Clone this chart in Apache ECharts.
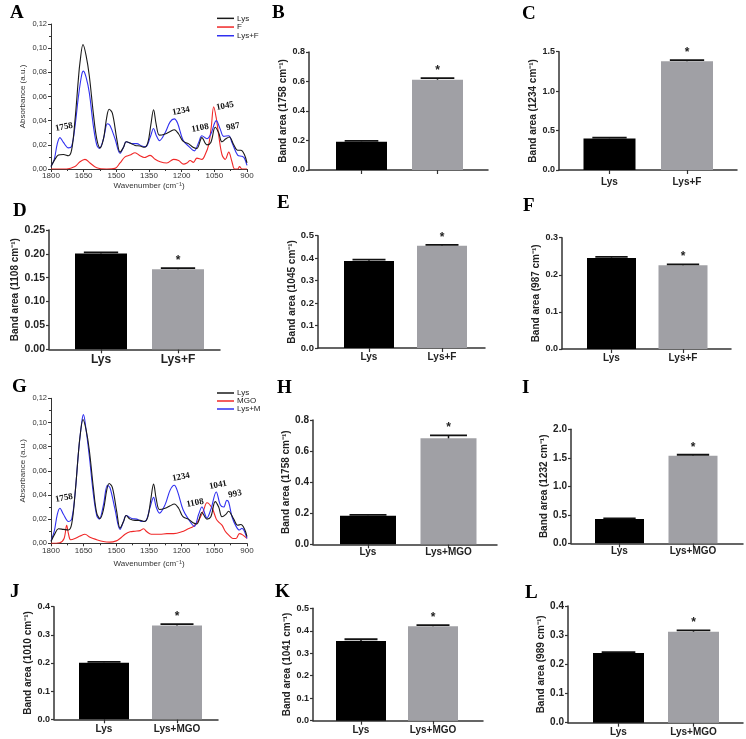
<!DOCTYPE html>
<html><head><meta charset="utf-8">
<script src="https://cdn.jsdelivr.net/npm/echarts@6/dist/echarts.min.js"></script>
<style>html,body{margin:0;padding:0;background:#fff}#c{width:746px;height:739px}</style>
</head><body><div id="c"></div>
<script>
// ---------- Spectra data (panel A) ----------
const wnA_lys = [1800,1782,1766,1743,1720,1705,1690,1674,1667,1653,1639,1624,1605,1590,1575,1559,1544,1533,1518,1498,1483,1467,1455,1437,1414,1391,1371,1355,1342,1329,1317,1302,1276,1253,1234,1214,1194,1169,1148,1130,1107,1084,1066,1046,1030,1015,997,981,961,943,928,912,900];
const absA_lys = [0.002,0.008,0.0115,0.012,0.011,0.016,0.040,0.075,0.088,0.103,0.094,0.077,0.045,0.025,0.0175,0.025,0.043,0.0495,0.046,0.025,0.014,0.018,0.0225,0.0215,0.0195,0.019,0.018,0.022,0.036,0.049,0.037,0.028,0.029,0.031,0.0325,0.029,0.023,0.021,0.018,0.017,0.026,0.020,0.022,0.0345,0.030,0.0225,0.025,0.0265,0.020,0.0155,0.0155,0.012,0.005];
const wnA_f = [1800,1728,1690,1667,1644,1621,1590,1544,1506,1483,1460,1437,1414,1391,1372,1345,1322,1299,1268,1237,1214,1191,1176,1161,1146,1130,1107,1092,1076,1064,1053,1041,1030,1015,1000,984,969,957,943,934,923,900];
const absA_f = [0,0,0.002,0.006,0.008,0.005,0.001,0,0.0005,0.005,0.010,0.0115,0.0135,0.011,0.0095,0.0113,0.008,0.006,0.005,0.008,0.007,0.004,0.005,0.007,0.0055,0.009,0.008,0.012,0.020,0.035,0.0515,0.042,0.028,0.012,0.008,0.014,0.006,0,0,0.002,0,0];
const wnA_lysf = [1800,1785,1771,1759,1743,1720,1705,1690,1674,1659,1651,1639,1624,1605,1590,1578,1559,1541,1529,1506,1483,1467,1455,1429,1406,1383,1365,1345,1329,1317,1302,1276,1253,1234,1219,1194,1169,1142,1122,1107,1084,1066,1041,1023,1007,984,969,943,923,912,900];
const absA_lysf = [0.002,0.008,0.021,0.026,0.022,0.0175,0.019,0.035,0.060,0.078,0.081,0.076,0.063,0.035,0.020,0.017,0.025,0.0375,0.036,0.025,0.013,0.018,0.0225,0.021,0.021,0.019,0.0185,0.026,0.0335,0.028,0.0235,0.030,0.039,0.0415,0.038,0.024,0.019,0.015,0.022,0.0275,0.025,0.029,0.040,0.033,0.027,0.0275,0.022,0.0115,0.0105,0.009,0.003];

// ---------- Spectra data (panel G) ----------
const wnG_lys = [1800,1782,1766,1743,1720,1705,1690,1674,1667,1653,1639,1624,1605,1590,1575,1559,1544,1533,1518,1498,1483,1467,1455,1437,1414,1391,1371,1355,1342,1329,1317,1302,1276,1253,1234,1214,1194,1169,1148,1130,1107,1084,1066,1046,1030,1015,997,985,961,943,928,912,900];
const absG_lys = [0.0015,0.008,0.012,0.0115,0.011,0.016,0.040,0.075,0.088,0.1025,0.094,0.077,0.045,0.025,0.0205,0.028,0.044,0.0495,0.046,0.026,0.0125,0.018,0.023,0.020,0.019,0.019,0.018,0.022,0.036,0.049,0.037,0.028,0.029,0.031,0.0325,0.029,0.022,0.020,0.017,0.016,0.0255,0.020,0.022,0.0345,0.030,0.022,0.024,0.0265,0.020,0.015,0.0155,0.012,0.0055];
const wnG_mgo = [1800,1760,1740,1728,1720,1710,1690,1667,1644,1621,1590,1560,1530,1500,1483,1460,1437,1414,1391,1375,1360,1340,1300,1268,1237,1200,1170,1146,1122,1100,1084,1060,1041,1030,1015,1000,985,965,950,935,920,900];
const absG_mgo = [0,0.0005,0.004,0.015,0.008,0.003,0.004,0.006,0.0075,0.005,0.003,0.0015,0.001,0.002,0.004,0.0075,0.0095,0.010,0.0105,0.012,0.0095,0.0075,0.0075,0.008,0.008,0.0095,0.012,0.014,0.019,0.027,0.0335,0.029,0.020,0.0175,0.015,0.010,0.007,0.004,0.004,0.008,0.007,0.004];
const wnG_lysm = [1800,1785,1771,1759,1743,1720,1705,1690,1674,1659,1651,1639,1624,1605,1590,1578,1559,1541,1529,1506,1483,1467,1455,1429,1406,1383,1365,1345,1329,1317,1302,1276,1253,1234,1219,1194,1169,1142,1122,1107,1084,1066,1041,1023,1007,993,984,969,950,935,923,912,900];
const absG_lysm = [0.002,0.010,0.024,0.029,0.024,0.018,0.020,0.040,0.075,0.100,0.1065,0.094,0.072,0.040,0.023,0.020,0.032,0.048,0.046,0.028,0.0115,0.018,0.023,0.0205,0.020,0.018,0.0185,0.030,0.038,0.030,0.025,0.032,0.044,0.048,0.043,0.028,0.020,0.014,0.024,0.030,0.021,0.028,0.0425,0.032,0.030,0.0355,0.034,0.022,0.014,0.011,0.0125,0.010,0.004];

// ---------- Bar data ----------
const catsF = ['Lys','Lys+F'];
const catsM = ['Lys','Lys+MGO'];
const bandB = '1758', valB = [0.192,0.612], errB = [0.002,0.008];
const bandC = '1234', valC = [0.400,1.380], errC = [0.003,0.006];
const bandD = '1108', valD = [0.201,0.168], errD = [0.001,0.001];
const bandE = '1045', valE = [0.387,0.455], errE = [0.004,0.002];
const bandF = '987',  valF = [0.245,0.226], errF = [0.002,0.001];
const bandH = '1758', valH = [0.184,0.682], errH = [0.002,0.016];
const bandI = '1232', valI = [0.426,1.537], errI = [0.003,0.008];
const bandJ = '1010', valJ = [0.201,0.333], errJ = [0.001,0.003];
const bandK = '1041', valK = [0.355,0.420], errK = [0.005,0.003];
const bandL = '989',  valL = [0.239,0.312], errL = [0.001,0.003];
const signif = [0,1];

const spectraTicks = {min:900, max:1800, step:150};
const absTicks = {min:0, max:0.12, step:0.02};

// ---------- Build option ----------
const SANS = '"Liberation Sans", Arial, sans-serif';
const SERIF = '"Liberation Serif", "Times New Roman", serif';
const AX = '#333';
const grids=[], xAxes=[], yAxes=[], series=[], legends=[], graphics=[];

function measure(txt, font){
  const c=document.createElement('canvas').getContext('2d'); c.font=font; return c.measureText(txt).width;
}

function spectraPanel(L, names, colors, xs, ys, legendCfg){
  const i=grids.length;
  grids.push({left:L.left, top:L.top, width:L.right-L.left, height:L.bottom-L.top, outerBoundsMode:'none'});
  xAxes.push({gridIndex:i, type:'value', inverse:true, min:spectraTicks.min, max:spectraTicks.max, interval:spectraTicks.step,
    axisLine:{show:true, onZero:false, lineStyle:{color:AX,width:1}},
    axisTick:{show:true, length:3, lineStyle:{color:AX}},
    minorTick:{show:true, splitNumber:2, length:2, lineStyle:{color:AX}},
    splitLine:{show:false},
    axisLabel:{fontSize:8, color:'#333', fontFamily:SANS, margin:3, formatter:v=>String(v)},
    name:'Wavenumber (cm\u207B\u00B9)', nameLocation:'middle', nameGap:L.xNameGap,
    nameTextStyle:{fontSize:8, color:'#333', fontFamily:SANS}});
  yAxes.push({gridIndex:i, type:'value', min:absTicks.min, max:absTicks.max, interval:absTicks.step,
    axisLine:{show:true, onZero:false, lineStyle:{color:AX,width:1}},
    axisTick:{show:true, length:3, lineStyle:{color:AX}},
    minorTick:{show:true, splitNumber:2, length:2, lineStyle:{color:AX}},
    splitLine:{show:false},
    axisLabel:{fontSize:7.5, color:'#333', fontFamily:SANS, margin:4, formatter:v=>v.toFixed(2).replace('.',',')},
    name:'Absorbance (a.u.)', nameLocation:'middle', nameGap:24,
    nameTextStyle:{fontSize:8, color:'#333', fontFamily:SANS}});
  names.forEach((n,k)=>{
    series.push({type:'line', name:n, xAxisIndex:i, yAxisIndex:i, showSymbol:false, smooth:0.35, silent:true,
      lineStyle:{color:colors[k], width:1.1}, itemStyle:{color:colors[k]}, z:k===0?3:2,
      data: xs[k].map((x,j)=>[x, ys[k][j]])});
  });
  legends.push(Object.assign({data:names, orient:'vertical', icon:'rect', itemWidth:17, itemHeight:1.5, itemGap:0,
    selectedMode:false, textStyle:{fontSize:8, color:'#222', fontFamily:SANS, lineHeight:legendCfg.lh, padding:[0,0,0,-2]}}, legendCfg.pos));
}

function barPanel(L, cats, vals, errs, band){
  const i=grids.length;
  const step=L.c[1]-L.c[0];
  const xmin=-(L.c[0]-L.left)/step, xmax=1+(L.right-L.c[1])/step;
  grids.push({left:L.left, top:L.top, width:L.right-L.left, height:L.bottom-L.top, outerBoundsMode:'none'});
  const lf=L.lf||9, cf=L.cf||10;
  const dec=L.dec||1;
  xAxes.push({gridIndex:i, type:'value', min:xmin, max:xmax,
    axisLine:{show:true, onZero:false, lineStyle:{color:AX,width:1.5}},
    axisTick:{show:true, length:4, customValues:[0,1], lineStyle:{color:AX,width:1.2}},
    splitLine:{show:false},
    axisLabel:{show:L.showCat!==false, customValues:[0,1], formatter:v=>cats[Math.round(v)]||'', fontSize:cf, fontWeight:'bold', color:'#222', fontFamily:SANS, margin:L.cm}});
  let lw=0; for(let v=0; v<=L.max+1e-9; v+=L.iv){ lw=Math.max(lw, measure(v.toFixed(dec), 'bold '+lf+'px '+SANS)); }
  yAxes.push({gridIndex:i, type:'value', min:0, max:L.max, interval:L.iv,
    axisLine:{show:true, onZero:false, lineStyle:{color:AX,width:1.5}},
    axisTick:{show:true, length:3, lineStyle:{color:AX,width:1.2}},
    splitLine:{show:false},
    axisLabel:{fontSize:lf, fontWeight:'bold', color:'#222', fontFamily:SANS, margin:4, formatter:v=>v.toFixed(dec)},
    name:'Band area ('+band+' cm\u207B\u00B9)', nameLocation:'middle', nameGap:4+lw+1.5,
    nameTextStyle:{fontSize:L.nf||10, fontWeight:'bold', color:'#222', fontFamily:SANS}});
  series.push({type:'bar', xAxisIndex:i, yAxisIndex:i, barWidth:L.bw, silent:true,
    data: vals.map((v,k)=>({value:[k,v], itemStyle:{color:k?'#a0a0a5':'#000'}}))});
  const hw=L.bw*0.33;
  series.push({type:'custom', xAxisIndex:i, yAxisIndex:i, silent:true, z:5,
    data: vals.map((v,k)=>[k, v, errs[k], signif[k]]),
    renderItem:(params, api)=>{
      const x=api.value(0), v=api.value(1), e=api.value(2), s=api.value(3);
      const p0=api.coord([x,v]), p1=api.coord([x,v+e]);
      const ch=[
        {type:'line', shape:{x1:p0[0],y1:p0[1],x2:p1[0],y2:p1[1]}, style:{stroke:'#111',lineWidth:1.5}},
        {type:'line', shape:{x1:p1[0]-hw,y1:p1[1]-0.5,x2:p1[0]+hw,y2:p1[1]-0.5}, style:{stroke:'#111',lineWidth:1.8}}
      ];
      if(s) ch.push({type:'text', x:p1[0], y:p1[1]-8, style:{text:'*', fill:'#222', font:'bold 12px '+SANS, align:'center', verticalAlign:'middle'}});
      return {type:'group', children:ch};
    }});
}

// Panel A
spectraPanel({left:51,right:247,top:24,bottom:169,xNameGap:13},
  ['Lys','F','Lys+F'], ['#1a1a1a','#f02828','#3030f0'],
  [wnA_lys, wnA_f, wnA_lysf], [absA_lys, absA_f, absA_lysf],
  {lh:8.7, pos:{left:212, top:9}});
barPanel({left:309,right:488,top:52,bottom:170,c:[361.5,437.5],bw:51,max:0.8,iv:0.2,showCat:false,cm:7}, catsF, valB, errB, bandB);
barPanel({left:559,right:737,top:51.7,bottom:170,c:[609.5,687],bw:52,max:1.5,iv:0.5,cm:7}, catsF, valC, errC, bandC);
barPanel({left:49,right:220,top:230,bottom:349.3,c:[101,178],bw:52,max:0.25,iv:0.05,dec:2,lf:10.5,cf:12,cm:4}, catsF, valD, errD, bandD);
barPanel({left:318,right:485,top:235.7,bottom:348,c:[369,442],bw:50,max:0.5,iv:0.1,lf:9.5,cm:4}, catsF, valE, errE, bandE);
barPanel({left:562,right:731,top:237.7,bottom:349,c:[611.5,683],bw:49,max:0.3,iv:0.1,cm:4}, catsF, valF, errF, bandF);
// Panel G
spectraPanel({left:51,right:247,top:398.3,bottom:543.3,xNameGap:16},
  ['Lys','MGO','Lys+M'], ['#1a1a1a','#f02828','#3030f0'],
  [wnG_lys, wnG_mgo, wnG_lysm], [absG_lys, absG_mgo, absG_lysm],
  {lh:7.3, pos:{left:212, top:384}});
barPanel({left:313,right:497,top:420,bottom:544.3,c:[368,448.5],bw:56,max:0.8,iv:0.2,lf:10,cm:3}, catsM, valH, errH, bandH);
barPanel({left:571,right:743,top:429.3,bottom:543.3,c:[619.5,693],bw:49,max:2.0,iv:0.5,lf:10,cm:3}, catsM, valI, errI, bandI);
barPanel({left:54,right:218,top:606.7,bottom:719.3,c:[104,177],bw:50,max:0.4,iv:0.1,cm:5}, catsM, valJ, errJ, bandJ);
barPanel({left:313,right:483,top:608.3,bottom:720.7,c:[361,433],bw:50,max:0.5,iv:0.1,cm:5}, catsM, valK, errK, bandK);
barPanel({left:568,right:743,top:606,bottom:722.7,c:[618.5,693.5],bw:51,max:0.4,iv:0.1,lf:10,cm:5}, catsM, valL, errL, bandL);

// panel letters
const letters=[['A',10,13.5],['B',272,13.3],['C',522,13.7],['D',13,210.8],['E',277,203],['F',523,206],
  ['G',12,387],['H',277,388],['I',522,388.5],['J',10,592.5],['K',275,592.5],['L',525,593.5]];
letters.forEach(([t,x,y])=>graphics.push({type:'text', x:x, y:y, silent:true,
  style:{text:t, font:'bold 19px '+SERIF, fill:'#000', align:'left', verticalAlign:'middle'}}));
// band annotations on spectra
const annots=[['1758',64,127],['1234',181,111],['1108',200,128],['1045',225,106],['987',233,126.7],
  ['1758',64,498],['1234',181,477],['1108',195,503],['1041',218,485],['993',235,494]];
annots.forEach(([t,x,y])=>graphics.push({type:'text', x:x, y:y, rotation:0.2, silent:true,
  style:{text:t, font:'bold 9px '+SERIF, fill:'#111', align:'center', verticalAlign:'middle'}}));

const chart=echarts.init(document.getElementById('c'), null, {renderer:'canvas'});
chart.setOption({animation:false, backgroundColor:'#fff', grid:grids, xAxis:xAxes, yAxis:yAxes, series:series, legend:legends, graphic:graphics});
</script></body></html>
